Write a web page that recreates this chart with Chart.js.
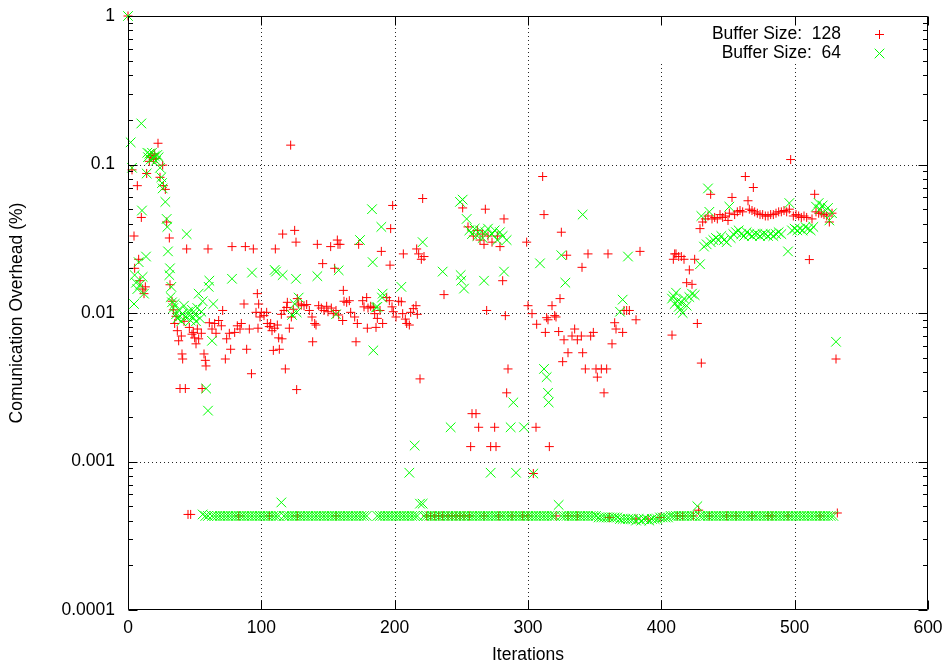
<!DOCTYPE html>
<html>
<head>
<meta charset="utf-8">
<script src="https://cdn.jsdelivr.net/npm/chart.js@4.4.1/dist/chart.umd.min.js"></script>
<style>
html,body{margin:0;padding:0;background:#fff;}
#wrap{width:947px;height:666px;}
</style>
</head>
<body>
<div id="wrap"><canvas id="c" width="947" height="666"></canvas></div>
<script>
// ---------- data ----------
const seriesNames = ['Buffer Size:  128', 'Buffer Size:  64'];
const xTickValues = [0, 100, 200, 300, 400, 500, 600];
const xTickLabels = ['0', '100', '200', '300', '400', '500', '600'];
const yTickValues = [0.0001, 0.001, 0.01, 0.1, 1];
const yTickLabels = ['0.0001', '0.001', '0.01', '0.1', '1'];
const xTitle = 'Iterations';
const yTitle = 'Comunication Overhead (%)';

// Buffer Size 128: [iteration, overhead]
const buf128Upper = [
  [0,1.0],[3,0.092],[4.5,0.033],[5,0.020],[7,0.072],[8,0.023],[9,0.0165],[10,0.044],[11,0.0145],[12,0.0135],[13,0.015],
  [14,0.087],[16,0.105],[17,0.112],[18,0.115],[19,0.108],[20,0.118],[21,0.11],[22.5,0.139],[24,0.082],[26,0.099],
  [26.5,0.072],[28,0.068],[29,0.041],[31,0.032],[31.5,0.0155],
  [33,0.012],[34,0.0105],[35,0.0085],[36,0.0095],[37,0.0076],[38,0.0065],[39,0.0031],[40,0.007],[40.5,0.0053],
  [41,0.0049],[42,0.0088],[43,0.0031],[44,0.027],[46,0.008],[48,0.0072],[49,0.0074],[50,0.0068],[51,0.0062],
  [52,0.0078],[53,0.0067],[55,0.0073],[55.6,0.0031],[57,0.0053],[58,0.0048],[58.5,0.0044],[60,0.027],[61,0.0086],
  [63,0.0078],[65,0.0085],[66,0.0073],[68,0.0089],[70,0.0082],[71,0.0104],[73,0.0049],[74,0.0067],[76,0.0073],
  [77,0.0057],[78,0.028],[80,0.0074],[82,0.0082],[84,0.0078],[85,0.0085],[87,0.0115],[88,0.028],[89,0.0057],
  [91,0.0078],[92.6,0.0039],[94,0.027],
  [96,0.0101],[97,0.0135],[97.5,0.0079],[98,0.0115],[99,0.0094],[100,0.0101],[102,0.0096],[104,0.0101],
  [104.5,0.0085],[106,0.0081],[107,0.0085],[108,0.0076],[109,0.0056],[110,0.0079],[110.5,0.027],[112,0.0083],
  [113,0.0068],[113.5,0.0057],[115,0.0098],[115.5,0.0067],[116,0.034],[117,0.0104],[118,0.0042],[119,0.0109],
  [119.5,0.0118],[121,0.0079],[122,0.135],[122.5,0.0094],[124,0.0106],[125,0.036],[126,0.030],[126.5,0.00305],
  [127,0.0125],[128,0.0115],[130,0.0113],[132,0.0112],[134,0.0114],[136,0.0104],[138,0.0094],[138.5,0.0064],
  [140,0.0085],[141,0.0083],[142,0.029],[143,0.0112],[145,0.0108],[146,0.0215],[147,0.0104],[149,0.0111],
  [150,0.0102],[152,0.028],[152.5,0.0108],[154,0.0099],[155,0.020],[156,0.0104],[157,0.031],[157.5,0.029],
  [158,0.0097],[159,0.029],[161,0.0089],[161.5,0.0142],[162,0.012],[164,0.0118],[166,0.0121],[167,0.0101],
  [170,0.0094],[171,0.0064],[172,0.0085],[173,0.029],[176,0.0121],[177,0.011],[179,0.0127],[179.5,0.0079],
  [180,0.0108],[182,0.0111],[184,0.0109],[185,0.0099],[186,0.0080],[187,0.0092],[189,0.0104],[190,0.026],
  [191,0.0085],[194,0.0127],[196,0.0121],[196.5,0.021],[197,0.037],[198,0.011],[198.5,0.053],[199,0.0102],
  [201,0.0094],[203,0.012],[205,0.0119],[206,0.0099],[206.5,0.025],[208,0.0091],[209,0.0085],[211,0.0083],
  [212,0.0101],[214,0.0107],[216,0.0112],[216.5,0.027],[217,0.0098],[218,0.025],
  [219,0.0036],[220,0.023],[221,0.059],[222,0.024],
  [237,0.0133],[251,0.051],[255,0.038],[257,0.00126],[258,0.0021],[259,0.033],[261,0.0021],[262,0.036],
  [263,0.0017],[264,0.031],[266,0.034],[267,0.029],[268,0.050],[269,0.0104],[270,0.033],[272,0.00126],
  [273,0.030],[275,0.0017],[276,0.00126],[277,0.033],[279,0.028],[281,0.0165],[282,0.043],[283,0.0096],
  [284,0.0029],[285,0.0042],[299,0.030],[300,0.0112],[303,0.0099],[304,0.00083],[306,0.0017],[306.5,0.0084],
  [311,0.083],[312,0.046],[313,0.0074],[314,0.0093],[315,0.009],[316,0.00126],[318,0.0112],[320,0.0096],
  [321,0.0094],[323,0.0075],[324,0.0125],[325,0.035],[326,0.0047],[327,0.0066],[329,0.0245],[330,0.0054],
  [333,0.007],[335,0.0078],[337,0.0066],[340,0.007],[340.5,0.0203],[341,0.0054],[343,0.0042],[345,0.025],
  [347,0.007],[349,0.0074],[351,0.0042],[352,0.0037],[355,0.0042],[357,0.0029],[359,0.0042],[360,0.025],
  [363,0.0062],[365,0.0086],[366,0.0078],[371,0.0074],[372,0.0104],[374,0.0104],[376,0.0104],[381,0.009],
  [384,0.026],
  [408,0.0071],[409,0.023],[410,0.025],[411,0.025],[413,0.024],[415,0.024],[417,0.023],[419,0.016],
  [421,0.0195],[423,0.0156],[425,0.023],[427,0.0085],[429,0.037],[430,0.0046],
  [431,0.041],[433,0.043],[435,0.045],[437,0.063],[438,0.043],[440,0.044],[442,0.043],[444,0.046],
  [446,0.044],[448,0.045],[450,0.042],[451,0.047],[453,0.060],[455,0.046],[457,0.048],[459,0.049],
  [461,0.048],[463,0.083],[465,0.057],[466,0.050],[468,0.049],[469,0.070],[470,0.048],[472,0.047],
  [474,0.046],[476,0.046],[478,0.045],[480,0.045],[482,0.046],[484,0.046],[486,0.047],[488,0.048],
  [490,0.048],[492,0.049],[494,0.048],[496,0.050],[497,0.108],[499,0.045],[501,0.046],[503,0.045],
  [505,0.044],[507,0.045],[509,0.044],[511,0.0229],[513,0.043],[515,0.063],[516,0.048],[518,0.047],
  [520,0.047],[522,0.046],[524,0.045],[526,0.041],[528,0.047],[531,0.0049]
];
const buf128Floor = [
  [45,0.00044],[47,0.00044],[83,0.00043],[106,0.00043],[127,0.00043],[156,0.00043],
  [224,0.00043],[227,0.00043],[230,0.00043],[233,0.00043],[236,0.00043],[240,0.00043],[243,0.00043],
  [246,0.00043],[249,0.00043],[252,0.00043],[256,0.00043],[267,0.00043],[278,0.00043],[288,0.00043],
  [296,0.00043],[300,0.00043],[321,0.00043],[330,0.00043],[337,0.00043],[361,0.00042],[381,0.00041],
  [390,0.00041],[399,0.00042],[412,0.00043],[416,0.00043],[424,0.00043],[428,0.00047],[436,0.00043],
  [449,0.00043],[456,0.00043],[468,0.00043],[480,0.00043],[483,0.00043],[495,0.00043],[519,0.00043],
  [532,0.00045]
];

// Buffer Size 64: [iteration, overhead]
const buf64Upper = [
  [0,1.0],[2,0.141],[3,0.095],[4.5,0.0115],[5,0.018],[6,0.016],[7,0.0145],[8,0.022],[9,0.0155],[10,0.189],
  [10.5,0.049],[11,0.0175],[12,0.0135],[13.5,0.024],[14,0.087],[14.5,0.12],[15,0.112],[16,0.118],[17,0.108],
  [18,0.12],[19,0.11],[20,0.114],[21,0.106],[22,0.116],[23,0.112],[24,0.095],[25,0.082],[25.5,0.075],
  [26,0.069],[28,0.056],[29,0.043],[29.5,0.038],[30,0.026],[31,0.018],[31.5,0.02],[32,0.0128],[32.5,0.015],
  [33,0.0118],[34,0.0108],[35,0.0115],[36,0.0098],[37,0.0092],[38,0.0105],[39,0.0095],[40,0.0088],
  [41,0.0099],[42,0.0112],[43,0.0094],[44,0.034],[45,0.0102],[46,0.0096],[47,0.0089],[48,0.0105],
  [49,0.0093],[50,0.0098],[51,0.0088],[52,0.0108],[53,0.0135],[54,0.0092],[55,0.0102],[56,0.012],
  [58.6,0.0031],[60,0.0022],[60.5,0.015],[61,0.0165],[63,0.0065],[64,0.0115],[78,0.017],[93,0.0187],
  [110,0.0195],[111,0.019],[116,0.018],[123,0.0097],[125,0.0115],[126,0.017],[126.5,0.0101],[128,0.0127],
  [142,0.0177],[156,0.0098],[158,0.0194],[174,0.031],[183,0.050],[183.5,0.022],[184,0.0056],[186,0.0109],
  [187,0.011],[190,0.038],[190.5,0.0127],[191,0.0135],[205,0.015],[211,0.00084],[215,0.00128],[221,0.030],
  [236,0.019],[242,0.0017],
  [249,0.056],[249.5,0.018],[250,0.0165],[251,0.058],[252,0.0146],[254,0.043],[256,0.036],[258,0.034],
  [260,0.037],[262,0.033],[264,0.036],[266,0.032],[267,0.0165],[268,0.035],[270,0.037],[272,0.00084],
  [273,0.034],[275,0.036],[277,0.031],[279,0.035],[281,0.033],[282,0.019],[284,0.031],[287,0.0017],
  [289,0.0025],[291,0.00084],[297,0.0017],[304,0.00083],[309,0.0216],[312,0.0042],[314,0.0037],
  [315,0.0029],[315.5,0.0025],[325,0.0245],[328,0.016],[341,0.046],[369,0.0102],[371,0.0123],[375,0.024],
  [408,0.0125],[409,0.013],[410,0.0115],[411,0.0137],[412,0.012],[413,0.011],[414,0.0105],[415,0.0118],
  [416,0.01],[417,0.0125],[419,0.0112],[421,0.0128],[423,0.0135],[425,0.0132],[429,0.0213],[430,0.045],
  [432,0.028],[434,0.029],[435,0.069],[436,0.048],[437,0.030],[439,0.031],[441,0.032],[443,0.031],
  [445,0.033],[447,0.031],[449,0.030],[451,0.052],[452,0.032],[454,0.034],[456,0.035],[458,0.036],
  [460,0.034],[462,0.033],[464,0.035],[466,0.034],[468,0.033],[470,0.034],[472,0.034],[474,0.033],
  [476,0.034],[478,0.034],[480,0.033],[482,0.034],[484,0.033],[486,0.034],[488,0.035],[490,0.034],
  [495,0.026],[496,0.055],[498,0.036],[500,0.037],[502,0.036],[504,0.037],[506,0.036],[508,0.038],
  [510,0.037],[512,0.036],[514,0.038],[516,0.052],[518,0.055],[519,0.050],[521,0.053],[523,0.049],
  [525,0.051],[526,0.042],[528,0.047],[531,0.0064]
];
const buf64Floor = [
  [56,0.00044],[58,0.00043],[60,0.00043],[63,0.00043],[65,0.00043],[67,0.00043],[69,0.00043],[71,0.00043],
  [73,0.00043],[75,0.00043],[77,0.00043],[79,0.00043],[81,0.00043],[83,0.00043],[85,0.00043],[87,0.00043],
  [89,0.00043],[91,0.00043],[93,0.00043],[95,0.00043],[97,0.00043],[99,0.00043],[101,0.00043],[103,0.00043],
  [105,0.00043],[107,0.00043],[109,0.00043],[111,0.00043],[113,0.00043],[115,0.00053],[117,0.00043],
  [119,0.00043],[121,0.00043],[123,0.00043],[125,0.00043],[127,0.00043],[129,0.00043],[131,0.00043],
  [133,0.00043],[135,0.00043],[137,0.00043],[139,0.00043],[141,0.00043],[143,0.00043],[145,0.00043],
  [147,0.00043],[149,0.00043],[151,0.00043],[153,0.00043],[155,0.00043],[157,0.00043],[159,0.00043],
  [161,0.00043],[163,0.00043],[165,0.00043],[167,0.00043],[169,0.00043],[171,0.00043],[173,0.00043],
  [175,0.00043],[177,0.00043],[179,0.00043],[187,0.00043],[189,0.00043],[191,0.00043],[193,0.00043],
  [195,0.00043],[197,0.00043],[199,0.00043],[201,0.00043],[203,0.00043],[205,0.00043],[207,0.00043],
  [209,0.00043],[211,0.00043],[213,0.00043],[215,0.00043],[217,0.00043],[219,0.00052],[221,0.00052],
  [222,0.00043],[224,0.00043],[226,0.00043],[228,0.00043],[230,0.00043],[232,0.00043],[234,0.00043],
  [236,0.00043],[238,0.00043],[240,0.00043],[242,0.00043],[244,0.00043],[246,0.00043],[248,0.00043],
  [250,0.00043],[252,0.00043],[254,0.00043],[256,0.00043],[258,0.00043],[260,0.00043],[262,0.00043],
  [264,0.00043],[266,0.00043],[268,0.00043],[270,0.00043],[272,0.00043],[274,0.00043],[276,0.00043],
  [278,0.00043],[280,0.00043],[282,0.00043],[284,0.00043],[286,0.00043],[288,0.00043],[290,0.00043],
  [292,0.00043],[294,0.00043],[296,0.00043],[298,0.00043],[300,0.00043],[302,0.00043],[304,0.00043],
  [306,0.00043],[308,0.00043],[310,0.00043],[312,0.00043],[314,0.00043],[316,0.00043],[318,0.00043],
  [320,0.00043],[323,0.00051],[325,0.00043],[327,0.00043],[329,0.00043],[331,0.00043],[333,0.00043],
  [335,0.00043],[337,0.00043],[339,0.00043],[341,0.00043],[343,0.00043],[345,0.00043],[347,0.00043],
  [349,0.00043],[351,0.00043],[353,0.00042],[355,0.00042],[357,0.00042],[359,0.00042],[361,0.00042],
  [363,0.00042],[365,0.00042],[367,0.00042],[369,0.00041],[371,0.00041],[373,0.00041],[375,0.00041],
  [377,0.00041],[379,0.00041],[381,0.00040],[383,0.00041],[385,0.00040],[387,0.00041],[389,0.00041],
  [391,0.00040],[393,0.00041],[395,0.00041],[397,0.00041],[399,0.00042],[401,0.00042],[403,0.00042],
  [405,0.00042],[407,0.00043],[409,0.00043],[411,0.00043],[413,0.00043],[415,0.00043],[417,0.00043],
  [419,0.00043],[421,0.00043],[423,0.00043],[425,0.00043],[427,0.00050],[429,0.00043],[431,0.00043],
  [433,0.00043],[435,0.00043],[437,0.00043],[439,0.00043],[441,0.00043],[443,0.00043],[445,0.00043],
  [447,0.00043],[449,0.00043],[451,0.00043],[453,0.00043],[455,0.00043],[457,0.00043],[459,0.00043],
  [461,0.00043],[463,0.00043],[465,0.00043],[467,0.00043],[469,0.00043],[471,0.00043],[473,0.00043],
  [475,0.00043],[477,0.00043],[479,0.00043],[481,0.00043],[483,0.00043],[485,0.00043],[487,0.00043],
  [489,0.00043],[491,0.00043],[493,0.00043],[495,0.00043],[497,0.00043],[499,0.00043],[501,0.00043],
  [503,0.00043],[505,0.00043],[507,0.00043],[509,0.00043],[511,0.00043],[513,0.00043],[515,0.00043],
  [517,0.00043],[519,0.00043],[521,0.00043],[523,0.00043],[525,0.00043],[527,0.00043],[529,0.00043]
];

const toPoints = arr => arr.map(p => ({x: p[0], y: p[1]}));
const FONT = {family: '"Liberation Sans", Arial, Helvetica, sans-serif', size: 17.5};
const FONT_CSS = '17.5px "Liberation Sans", Arial, Helvetica, sans-serif';
const RED = 'rgb(255,0,0)';
const GREEN = 'rgb(0,255,0)';

// ---------- frame / grid / legend plugin ----------
const framePlugin = {
  id: 'framePlugin',
  beforeDatasetsDraw(chart) {
    const {ctx, chartArea: a, scales: {x, y}} = chart;
    ctx.save();
    ctx.strokeStyle = 'rgba(0,0,0,0.85)';
    ctx.lineWidth = 1;
    ctx.setLineDash([1, 3]);
    ctx.beginPath();
    x.ticks.forEach(t => {
      if (t.value <= x.min || t.value >= x.max) return;
      const px = Math.round(x.getPixelForValue(t.value)) + 0.5;
      ctx.moveTo(px, a.top); ctx.lineTo(px, a.bottom);
    });
    y.ticks.forEach(t => {
      if (t.value <= y.min || t.value >= y.max) return;
      const py = Math.round(y.getPixelForValue(t.value)) + 0.5;
      ctx.moveTo(a.left, py); ctx.lineTo(a.right, py);
    });
    ctx.stroke();
    ctx.setLineDash([]);
    // key area blanks the grid like gnuplot
    ctx.fillStyle = '#fff';
    ctx.fillRect(652, a.top + 1, a.right - 653, 47);
    ctx.restore();
  },
  afterDraw(chart) {
    const {ctx, chartArea: a, scales: {x, y}} = chart;
    ctx.save();
    ctx.strokeStyle = '#000';
    ctx.lineWidth = 1;
    const L = Math.round(a.left) + 0.5, R = Math.round(a.right) - 0.5;
    const T = Math.round(a.top) + 0.5, B = Math.round(a.bottom) - 0.5;
    ctx.beginPath();
    ctx.rect(L, T, R - L, B - T);
    x.ticks.forEach(t => {
      const px = Math.round(x.getPixelForValue(t.value)) + 0.5;
      ctx.moveTo(px, B); ctx.lineTo(px, B - 9);
      ctx.moveTo(px, T); ctx.lineTo(px, T + 9);
    });
    const lo = Math.round(Math.log10(y.min)), hi = Math.round(Math.log10(y.max));
    for (let e = lo; e <= hi; e++) {
      for (let m = 1; m <= 9; m++) {
        const v = m * Math.pow(10, e);
        if (v < y.min * 0.999 || v > y.max * 1.001) continue;
        const len = m === 1 ? 9 : 4.5;
        const py = Math.round(y.getPixelForValue(v)) + 0.5;
        ctx.moveTo(L, py); ctx.lineTo(L + len, py);
        ctx.moveTo(R, py); ctx.lineTo(R - len, py);
      }
    }
    ctx.stroke();

    // key
    ctx.font = FONT_CSS;
    ctx.fillStyle = '#000';
    ctx.textAlign = 'right';
    ctx.textBaseline = 'middle';
    const rows = [{y: 34}, {y: 53}];
    chart.data.datasets.forEach((ds) => {
      const ry = rows[ds.keyRow].y;
      ctx.fillText(ds.label, 841, ry);
      ctx.strokeStyle = ds.borderColor;
      ctx.lineWidth = 1;
      ctx.beginPath();
      const mx = 879.5, my = ry + 0.5;
      if (ds.pointStyle === 'cross') {
        ctx.moveTo(mx - 4.5, my); ctx.lineTo(mx + 4.5, my);
        ctx.moveTo(mx, my - 4.5); ctx.lineTo(mx, my + 4.5);
      } else {
        ctx.moveTo(mx - 4.8, my - 4.8); ctx.lineTo(mx + 4.8, my + 4.8);
        ctx.moveTo(mx - 4.8, my + 4.8); ctx.lineTo(mx + 4.8, my - 4.8);
      }
      ctx.stroke();
    });
    ctx.restore();
  }
};

new Chart(document.getElementById('c'), {
  type: 'scatter',
  data: {
    datasets: [
      {
        label: seriesNames[1],
        keyRow: 1,
        data: toPoints(buf64Upper.concat(buf64Floor)),
        pointStyle: 'crossRot',
        pointRadius: 6.8,
        pointHoverRadius: 6.8,
        borderColor: GREEN,
        backgroundColor: GREEN,
        pointBorderWidth: 1,
        borderWidth: 1,
        clip: false,
        order: 0
      },
      {
        label: seriesNames[0],
        keyRow: 0,
        data: toPoints(buf128Upper.concat(buf128Floor)),
        pointStyle: 'cross',
        pointRadius: 4.5,
        pointHoverRadius: 4.5,
        borderColor: RED,
        backgroundColor: RED,
        pointBorderWidth: 1,
        borderWidth: 1,
        clip: false,
        order: 1
      }
    ]
  },
  options: {
    responsive: false,
    animation: false,
    devicePixelRatio: 1,
    layout: {padding: {top: 16, right: 19, left: 0, bottom: 0}},
    plugins: {legend: {display: false}, tooltip: {enabled: false}, title: {display: false}},
    scales: {
      x: {
        type: 'linear',
        min: 0, max: 600,
        afterBuildTicks: s => { s.ticks = xTickValues.map(v => ({value: v})); },
        afterFit: s => { s.height = 56; s.paddingLeft = 0; s.paddingRight = 0; },
        ticks: {
          callback: (v) => xTickLabels[xTickValues.indexOf(v)] ?? '',
          color: '#000', font: FONT, padding: 8, maxRotation: 0, autoSkip: false
        },
        grid: {display: false, drawTicks: false},
        border: {display: false},
        title: {display: true, text: xTitle, color: '#000', font: FONT, padding: {top: 0, bottom: 0}}
      },
      y: {
        type: 'logarithmic',
        min: 0.0001, max: 1,
        afterBuildTicks: s => { s.ticks = yTickValues.map(v => ({value: v})); },
        afterFit: s => { s.width = 128; s.paddingTop = 0; s.paddingBottom = 0; },
        ticks: {
          callback: (v) => {
            const i = yTickValues.findIndex(t => Math.abs(t - v) / t < 1e-6);
            return i >= 0 ? yTickLabels[i] : '';
          },
          color: '#000', font: FONT, padding: 13, autoSkip: false
        },
        grid: {display: false, drawTicks: false},
        border: {display: false},
        title: {display: true, text: yTitle, color: '#000', font: FONT, padding: {top: 7, bottom: 0}}
      }
    }
  },
  plugins: [framePlugin]
});
</script>
</body>
</html>
